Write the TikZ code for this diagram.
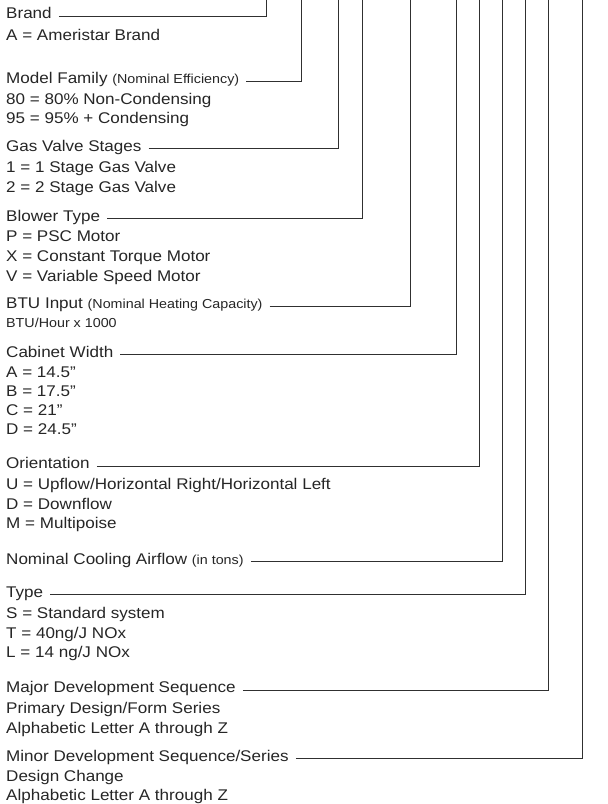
\documentclass[tikz,border=0pt]{standalone}
\usepackage{fontspec}
\setmainfont{Liberation Sans}[FakeStretch=1.10]
\newfontfamily\smallfont{Liberation Sans}[FakeStretch=1.10]
\newcommand\smalltxt[1]{{\fontsize{13}{16}\smallfont #1}}
\definecolor{txt}{HTML}{262626}
\definecolor{lnc}{HTML}{303030}
\begin{document}
\begin{tikzpicture}[x=1pt,y=-1pt,
  ttl/.style={anchor=mid west, inner sep=0pt, font=\fontsize{15.5}{19}\selectfont, text=txt},
  bdy/.style={anchor=base west, inner sep=0pt, font=\fontsize{15.5}{19}\selectfont, text=txt},
  sbdy/.style={anchor=base west, inner sep=0pt, font=\fontsize{13}{16}\smallfont, text=txt},
  conn/.style={draw=lnc, line width=0.9pt}]
\useasboundingbox[fill=white] (0,0) rectangle (608,804);

% top ends of the connectors
\coordinate (c1) at (266,0);
\coordinate (c2) at (301,0);
\coordinate (c3) at (338,0);
\coordinate (c4) at (362,0);
\coordinate (c5) at (410,0);
\coordinate (c6) at (456,0);
\coordinate (c7) at (479,0);
\coordinate (c8) at (502,0);
\coordinate (c9) at (525,0);
\coordinate (c10) at (548,0);
\coordinate (c11) at (582,0);

% Brand
\node[ttl] (t1) at (6,16) {Brand};
\node[bdy] (b1a) at (6,40.5) {A = Ameristar Brand};
% Model family
\node[ttl] (t2) at (6,81) {Model Family \smalltxt{(Nominal Efficiency)}};
\node[bdy] (b2a) at (6,104.5) {80 = 80\% Non-Condensing};
\node[bdy] (b2b) at (6,123.5) {95 = 95\% + Condensing};
% Gas valve
\node[ttl] (t3) at (6,148.5) {Gas Valve Stages};
\node[bdy] (b3a) at (6,172.5) {1 = 1 Stage Gas Valve};
\node[bdy] (b3b) at (6,192.5) {2 = 2 Stage Gas Valve};
% Blower
\node[ttl] (t4) at (6,218.5) {Blower Type};
\node[bdy] (b4a) at (6,241.5) {P = PSC Motor};
\node[bdy] (b4b) at (6,261.5) {X = Constant Torque Motor};
\node[bdy] (b4c) at (6,281.5) {V = Variable Speed Motor};
% BTU
\node[ttl] (t5) at (6,306) {BTU Input \smalltxt{(Nominal Heating Capacity)}};
\node[sbdy] (b5a) at (6,327.6) {BTU/Hour x 1000};
% Cabinet
\node[ttl] (t6) at (6,354.5) {Cabinet Width};
\node[bdy] (b6a) at (6,377.5) {A = 14.5”};
\node[bdy] (b6b) at (6,396.5) {B = 17.5”};
\node[bdy] (b6c) at (6,415.5) {C = 21”};
\node[bdy] (b6d) at (6,434.5) {D = 24.5”};
% Orientation
\node[ttl] (t7) at (6,466) {Orientation};
\node[bdy] (b7a) at (6,489.5) {U = Upflow/Horizontal Right/Horizontal Left};
\node[bdy] (b7b) at (6,509) {D = Downflow};
\node[bdy] (b7c) at (6,528.5) {M = Multipoise};
% Cooling
\node[ttl] (t8) at (6,561.5) {Nominal Cooling Airflow \smalltxt{(in tons)}};
% Type
\node[ttl] (t9) at (6,594.5) {Type};
\node[bdy] (b9a) at (6,618.5) {S = Standard system};
\node[bdy] (b9b) at (6,638) {T = 40ng/J NOx};
\node[bdy] (b9c) at (6,657.5) {L = 14 ng/J NOx};
% Major
\node[ttl] (t10) at (6,690) {Major Development Sequence};
\node[bdy] (b10a) at (6,713.5) {Primary Design/Form Series};
\node[bdy] (b10b) at (6,733) {Alphabetic Letter A through Z};
% Minor
\node[ttl] (t11) at (6,758.5) {Minor Development Sequence/Series};
\node[bdy] (b11a) at (6,781.5) {Design Change};
\node[bdy] (b11b) at (6,800.5) {Alphabetic Letter A through Z};

% connectors
\foreach \i in {1,...,11}{
  \draw[conn] ([xshift=7pt]t\i.mid east) -| (c\i);
}
\end{tikzpicture}
\end{document}
